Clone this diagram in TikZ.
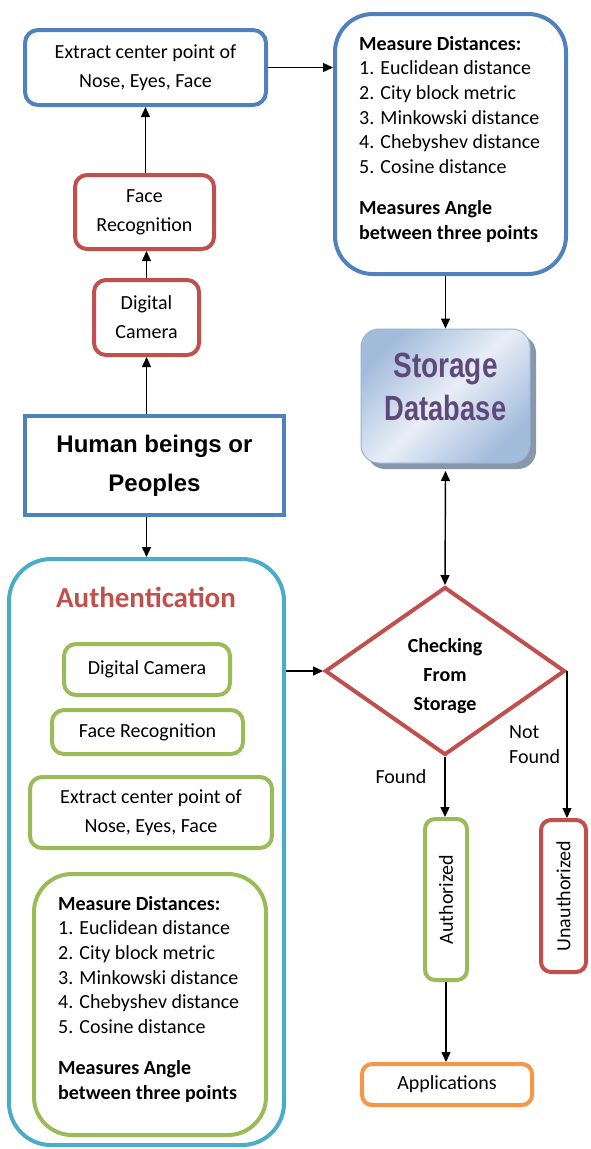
\documentclass[tikz,border=0pt]{standalone}
\usepackage{fontspec}
\setmainfont{Carlito}
\newfontfamily\arialf{Liberation Sans}
\usetikzlibrary{arrows.meta,shapes.geometric}
\definecolor{cblue}{HTML}{4F81BD}
\definecolor{cred}{HTML}{C0504D}
\definecolor{cgreen}{HTML}{9BBB59}
\definecolor{ccyan}{HTML}{4BACC6}
\definecolor{corange}{HTML}{F79646}
\definecolor{sdedge}{HTML}{95B3D7}
\definecolor{sddark}{HTML}{A3BCDB}
\definecolor{sdlight}{HTML}{E8EEF7}
\definecolor{sdshadow}{HTML}{8A97AA}
\definecolor{sdtext}{HTML}{5F497A}
\tikzset{
  box/.style={draw, line width=4pt, rounded corners=12pt, align=center, inner sep=0pt,
    font=\fontsize{20}{29}\selectfont},
  arr/.style={-{Triangle[length=10pt,width=9pt]}, line width=1.4pt},
  darr/.style={{Triangle[length=10pt,width=9pt]}-{Triangle[length=10pt,width=9pt]}, line width=1.4pt},
  lbl/.style={inner sep=0pt, font=\fontsize{20}{25}\selectfont},
}
\newcommand{\measurelist}{\begin{minipage}[t]{215pt}\fontsize{20}{24.7}\selectfont\raggedright
\textbf{Measure Distances:}\\
1. Euclidean distance\\
2. City block metric\\
3. Minkowski distance\\
4. Chebyshev distance\\
5. Cosine distance\\[16.3pt]
\textbf{Measures Angle}\\
\textbf{between three points}\end{minipage}}
\begin{document}
\begin{tikzpicture}[x=1pt,y=-1pt]
\useasboundingbox (0,0) rectangle (590,1149);
% top-left chain
\node[box, draw=cblue, minimum width=241pt, minimum height=75pt, rounded corners=13pt] (A) at (145.5,67.5) {Extract center point of\\Nose, Eyes, Face};
\node[box, draw=cred, minimum width=139pt, minimum height=74pt] (fr) at (144.5,212) {Face\\Recognition};
\node[box, draw=cred, minimum width=105pt, minimum height=75pt] (dc) at (146.5,317.5) {Digital\\Camera};
\node[draw=cblue, line width=4pt, minimum width=259pt, minimum height=99pt, inner sep=0pt, align=center,
  font=\arialf\bfseries\fontsize{24}{39}\selectfont] (hum) at (154.5,465.5) {Human beings or\\Peoples};
% top-right measure box
\node[box, draw=cblue, minimum width=231pt, minimum height=260pt, rounded corners=38pt] (m1) at (450.5,144) {};
\node[anchor=base west, inner sep=0pt] (m1t) at (359,50) {\measurelist};
% storage
\node[fill=sdshadow, minimum width=169pt, minimum height=134pt, rounded corners=18pt, inner sep=0pt] (sdsh) at (451.5,402) {};
\node[draw=sdedge, line width=1pt, left color=sddark, right color=sddark, middle color=sdlight, shading angle=45,
  minimum width=169pt, minimum height=134pt, rounded corners=18pt, inner sep=0pt] (sd) at (445.5,396) {};
\node[inner sep=0pt, align=center, text=sdtext, font=\arialf\bfseries\fontsize{35}{43}\selectfont] (sdt) at (445.5,387)
  {\scalebox{0.8}[1]{Storage}\\\scalebox{0.78}[1]{Database}};
\coordinate (sdb) at (445.5,471);
% authentication
\node[box, draw=ccyan, minimum width=275pt, minimum height=586pt, rounded corners=42pt] (auth) at (146.5,852) {};
\node[anchor=base, inner sep=0pt, text=cred, font=\bfseries\fontsize{29}{34}\selectfont] (autht) at (146,607) {Authentication};
\node[box, draw=cgreen, minimum width=166pt, minimum height=51pt] (gdc) at (147,669.5) {Digital Camera};
\node[box, draw=cgreen, minimum width=191pt, minimum height=44pt] (gfr) at (147.5,732) {Face Recognition};
\node[box, draw=cgreen, minimum width=242pt, minimum height=71pt] (gex) at (151,812.5) {Extract center point of\\Nose, Eyes, Face};
\node[box, draw=cgreen, minimum width=232pt, minimum height=261pt, rounded corners=38pt] (gm) at (150,1004.5) {};
\node[anchor=base west, inner sep=0pt] (gmt) at (58,910) {\measurelist};
% decision
\node[draw=cred, line width=4pt, shape=diamond, aspect=1.42, minimum width=240pt, minimum height=168pt, inner sep=0pt] (dm) at (445,671) {};
\begin{scope}
\clip (330,600) rectangle (560,712);
\node[inner sep=0pt, align=center, font=\bfseries\fontsize{20}{29}\selectfont] (dmt) at (445,676) {Checking\\From\\Storage};
\end{scope}
\node[lbl, anchor=base] (fnd) at (401,783) {Found};
\node[lbl, anchor=base west] (nfnd) at (509,738) {\begin{minipage}[t]{70pt}\fontsize{20}{25}\selectfont Not\\Found\end{minipage}};
% outcomes
\node[box, draw=cgreen, minimum width=42pt, minimum height=161pt, rounded corners=10pt] (au) at (446,899.5) {\rotatebox{90}{Authorized}};
\node[box, draw=cred, minimum width=45pt, minimum height=152pt, rounded corners=10pt] (un) at (563.5,896) {\rotatebox{90}{Unauthorized}};
\node[box, draw=corange, minimum width=170pt, minimum height=41pt, rounded corners=10pt] (ap) at (447,1084.5) {Applications};
% connectors
\draw[arr] (dc.north) -- (dc.north |- fr.south);
\draw[arr] (A.south |- fr.north) -- (A.south);
\draw[arr] (hum.north -| dc.south) -- (dc.south);
\draw[arr] (hum.south -| auth.north) -- (auth.north);
\draw[arr] (A.east) -- (A.east -| m1.west);
\draw[arr] (m1.south -| sd.north) -- (sd.north);
\draw[darr] (sdb) -- (dm.north);
\draw[arr] (auth.east |- dm.west) -- (dm.west);
\draw[arr] (dm.south) -- (dm.south |- au.north);
\draw[arr] (dm.east) -- (dm.east |- un.north);
\draw[arr] (au.south) -- (au.south |- ap.north);
\end{tikzpicture}
\end{document}
